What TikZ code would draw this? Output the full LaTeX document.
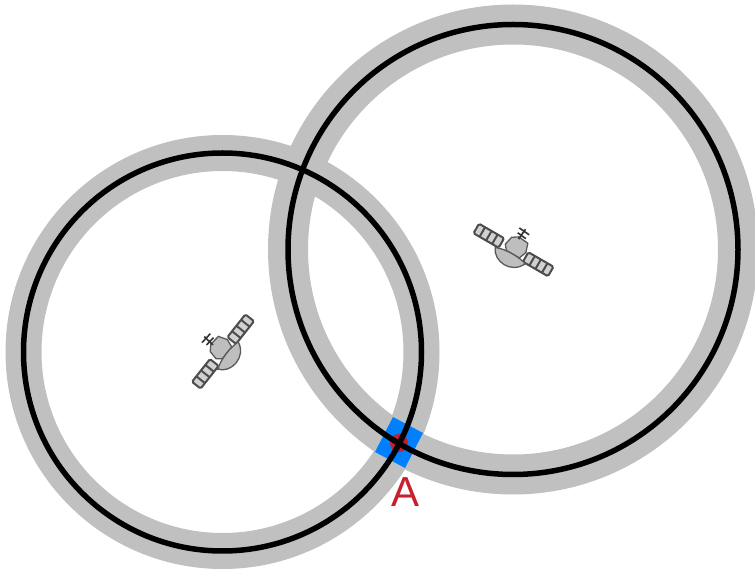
\documentclass[tikz,border=0pt]{standalone}
\usepackage{fontspec}
\setmainfont{Liberation Sans}
\definecolor{ringgray}{RGB}{192,192,192}
\definecolor{bodygray}{RGB}{190,190,190}
\definecolor{markblue}{RGB}{0,128,255}
\definecolor{markred}{RGB}{200,30,45}
\tikzset{
  ring/.style={draw=ringgray},
  orbit/.style={draw=black,line width=5.5pt},
  panel/.style={draw=black!70,line width=2pt,fill=bodygray!70,rounded corners=1.5pt},
  part/.style={draw=black!65,line width=1.3pt,fill=bodygray},
  sat/.pic={
    \foreach \s in {-1,1}{
      \draw[panel] (\s*14,-5.5) rectangle (\s*43,5.5);
      \draw[black!70,line width=2pt] (\s*21.5,-5.5)--(\s*21.5,5.5) (\s*28.5,-5.5)--(\s*28.5,5.5) (\s*36,-5.5)--(\s*36,5.5);
    }
    \draw[part] (-10,1) -- (-8,10) -- (-2,14) -- (9,13) -- (12,4) -- (9,-4) -- (-6,-4) -- cycle;
    \draw[part] (-17,-7) .. controls (-12,-20) and (10,-22) .. (17,-6) .. controls (8,-3) and (-8,-3) .. (-17,-7) -- cycle;
    \draw[black!80,line width=1.6pt] (-1,12) -- (0,24) (-6,22) -- (6,21) (-5,17) -- (5,16);
  }
}
\begin{document}
\begin{tikzpicture}[x=1pt,y=1pt]
\useasboundingbox (0,0) rectangle (755,570);
\fill[white] (0,0) rectangle (755,570);
\coordinate (cl) at (222.5,218);
\coordinate (cr) at (513,320.5);
\coordinate (a) at (399,127);
\draw[ring,line width=36pt] (cl) circle[radius=199];
\draw[ring,line width=40pt] (cr) circle[radius=225];
\fill[markblue] (393,153) -- (423,137) -- (405,102) -- (375,118) -- cycle;
\fill[markred] (a) circle[radius=9];
\draw[orbit] (cl) circle[radius=199];
\draw[orbit] (cr) circle[radius=225];
\pic[rotate=51.6] at (223,218.5) {sat};
\pic[rotate=-30] at (513.5,320) {sat};
\node[text=markred,font=\fontsize{42}{42}\selectfont,inner sep=0pt] (lbl) at (405.5,78) {A};
\end{tikzpicture}
\end{document}
